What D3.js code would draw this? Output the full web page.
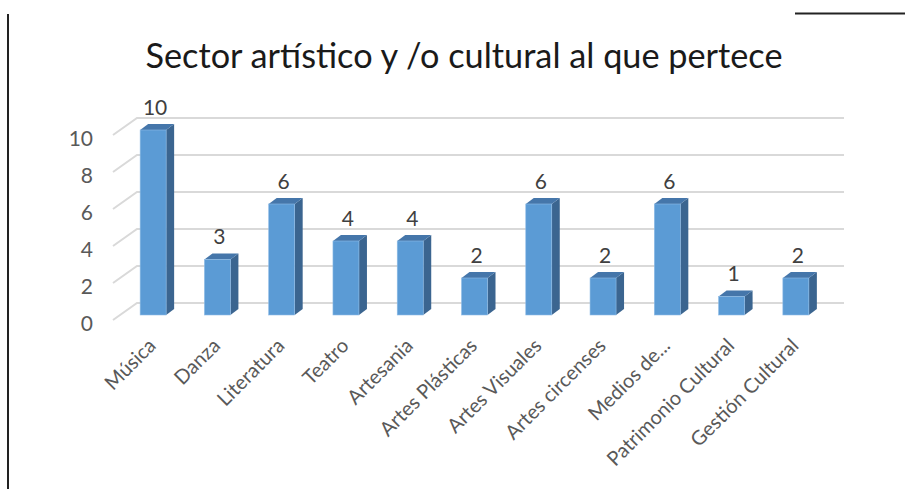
<!DOCTYPE html>
<html>
<head>
<meta charset="utf-8">
<script src="https://cdn.jsdelivr.net/npm/d3@7"></script>
<style>
  body { margin: 0; background: #fff; }
  svg { display: block; }
</style>
</head>
<body>
<svg width="905" height="489"></svg>
<script>
var categories = ["Música", "Danza", "Literatura", "Teatro", "Artesania", "Artes Plásticas",
                  "Artes Visuales", "Artes circenses", "Medios de...", "Patrimonio Cultural", "Gestión Cultural"];
var values = [10, 3, 6, 4, 4, 2, 6, 2, 6, 1, 2];
var yTicks = [0, 2, 4, 6, 8, 10];
var title = "Sector artístico y /o cultural al que pertece";

var svg = d3.select("svg"),
    font = "Lato, 'Open Sans', sans-serif";

// page decorations around the pasted chart
svg.append("line").attr("x1", 8).attr("x2", 8).attr("y1", 14).attr("y2", 489)
    .attr("stroke", "#222").attr("stroke-width", 2);
svg.append("line").attr("x1", 795).attr("x2", 905).attr("y1", 13.5).attr("y2", 13.5)
    .attr("stroke", "#222").attr("stroke-width", 2);

var x = d3.scaleBand().domain(categories).range([125, 832]),
    y = d3.scaleLinear().domain([0, 10]).range([315, 130]);

// 3d offsets
var floor = {dx: 24, dy: -17},   // full depth of the floor
    bar = {dx: 8, dy: -6},       // depth of a bar
    half = 13;                   // half width of front face

var frontY = function(v) { return y(v) + 5; };
var fc = function(c) { return x(c) + x.bandwidth() / 2 - 4; };

var g = svg.append("g");

// gridlines (floor/wall)
g.selectAll(".grid")
  .data(yTicks)
  .enter().append("path")
    .attr("class", "grid")
    .attr("fill", "none")
    .attr("stroke", "#d9d9d9")
    .attr("stroke-width", 2)
    .attr("d", function(d) {
      var x0 = x.range()[0] - 12, y0 = frontY(d);
      return "M" + x0 + "," + y0 + "L" + (x0 + floor.dx) + "," + (y0 + floor.dy) +
             "L" + (x.range()[1] + 12) + "," + (y0 + floor.dy);
    });

// y labels
g.selectAll(".ylab")
  .data(yTicks)
  .enter().append("text")
    .attr("class", "ylab")
    .attr("x", 93)
    .attr("y", function(d) { return frontY(d) + 2; })
    .attr("text-anchor", "end")
    .attr("dominant-baseline", "central")
    .style("font", "21px " + font)
    .attr("fill", "#595959")
    .text(function(d) { return d; });

var bars = g.selectAll(".bar")
  .data(categories.map(function(c, i) { return {cat: c, value: values[i]}; }))
  .enter().append("g")
    .attr("class", "bar");

// side
bars.append("path")
    .attr("fill", "#3b6590")
    .attr("d", function(d) {
      var xr = fc(d.cat) + half, yt = y(d.value), yb = y(0);
      return "M" + xr + "," + yb + "L" + xr + "," + yt + "l" + bar.dx + "," + bar.dy +
             "L" + (xr + bar.dx) + "," + (yb + bar.dy) + "Z";
    });
// top
bars.append("path")
    .attr("fill", "#4576aa")
    .attr("d", function(d) {
      var xl = fc(d.cat) - half, yt = y(d.value);
      return "M" + xl + "," + yt + "h" + (2 * half) + "l" + bar.dx + "," + bar.dy +
             "h" + (-2 * half) + "Z";
    });
// front
bars.append("rect")
    .attr("fill", "#5b9bd5")
    .attr("stroke", "#8fbce6")
    .attr("stroke-width", 0.6)
    .attr("x", function(d) { return fc(d.cat) - half; })
    .attr("y", function(d) { return y(d.value); })
    .attr("width", 2 * half)
    .attr("height", function(d) { return y(0) - y(d.value); });

// value labels
bars.append("text")
    .attr("x", function(d) { return fc(d.cat) + 2; })
    .attr("y", function(d) { return y(d.value) - 24; })
    .attr("text-anchor", "middle")
    .attr("dominant-baseline", "central")
    .style("font", "21px " + font)
    .attr("fill", "#404040")
    .text(function(d) { return d.value; });

// category labels
g.selectAll(".xlab")
  .data(categories)
  .enter().append("text")
    .attr("class", "xlab")
    .attr("transform", function(d) { return "translate(" + (fc(d) + 4) + ",347) rotate(-45)"; })
    .attr("text-anchor", "end")
    .style("font", "20px " + font)
    .attr("fill", "#595959")
    .text(function(d) { return d; });

// title
svg.append("text")
    .attr("x", 464)
    .attr("y", 68)
    .attr("text-anchor", "middle")
    .attr("textLength", 637)
    .attr("lengthAdjust", "spacingAndGlyphs")
    .style("font", "34px " + font)
    .attr("fill", "#1a1a1a")
    .text(title);
</script>
</body>
</html>
